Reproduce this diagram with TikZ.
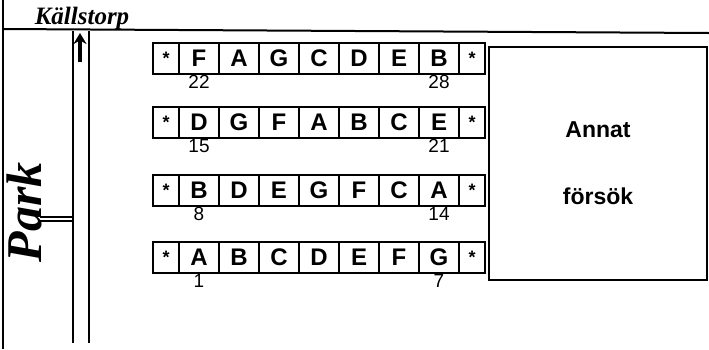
\documentclass[tikz,border=0pt]{standalone}
\usepackage{fontspec}
\setmainfont{Liberation Sans}
\newfontfamily\hand{Liberation Serif}
\usetikzlibrary{positioning, arrows.meta}

\tikzset{
    cell/.style={draw, line width=2pt, outer sep=0pt, inner sep=0pt,
        minimum width=40pt, minimum height=31pt,
        font=\fontsize{24}{24}\selectfont\bfseries},
    starcell/.style={cell, minimum width=26pt, font=\fontsize{18}{18}\selectfont\bfseries},
    num/.style={inner sep=0pt, font=\fontsize{19}{19}\selectfont},
    road/.style={line width=2pt},
}

\begin{document}
\begin{tikzpicture}[x=1pt, y=-1pt]
    \useasboundingbox (0,0) rectangle (709,349);

    % plan
    \draw[road] (3,0) -- (3,349);
    \draw[road] (3,29) -- (709,33);
    \draw[road] (73,31) -- (73,343);
    \draw[road] (89,31) -- (89,343);
    \draw[line width=3.5pt, -{Stealth[length=11pt, width=13pt]}] (80,62) -- (80,33);
    \draw[line width=1.2pt] (40,217) -- (72,217);
    \draw[line width=1.2pt] (40,221) -- (72,221);

    \node[anchor=base, font=\hand\bfseries\itshape\fontsize{25}{25}\selectfont] (kallstorp) at (82,24) {Källstorp};
    \node[rotate=90, font=\hand\bfseries\itshape\fontsize{50}{50}\selectfont] (park) at (24,212) {Park};

    % rows
    \foreach \r/\y/\letters/\lo/\hi in {1/58/{F,A,G,C,D,E,B}/22/28,
                                       2/122/{D,G,F,A,B,C,E}/15/21,
                                       3/190/{B,D,E,G,F,C,A}/8/14,
                                       4/257/{A,B,C,D,E,F,G}/1/7} {
        \node[starcell, anchor=west] (r\r-0) at (153,\y) {*};
        \foreach \l [count=\i] in \letters {
            \pgfmathtruncatemacro\p{\i-1}
            \node[cell, right=0pt of r\r-\p] (r\r-\i) {\l};
        }
        \node[starcell, right=0pt of r\r-7] (r\r-8) {*};
        \node[num, below=2pt of r\r-1] (lo\r) {\lo};
        \node[num, below=2pt of r\r-7] (hi\r) {\hi};
    }

    \node[draw, line width=2pt, minimum width=218pt, minimum height=233pt, align=center,
        font=\fontsize{23}{67}\selectfont\bfseries] (annat) at (598,163.5) {Annat\\försök};
\end{tikzpicture}
\end{document}
